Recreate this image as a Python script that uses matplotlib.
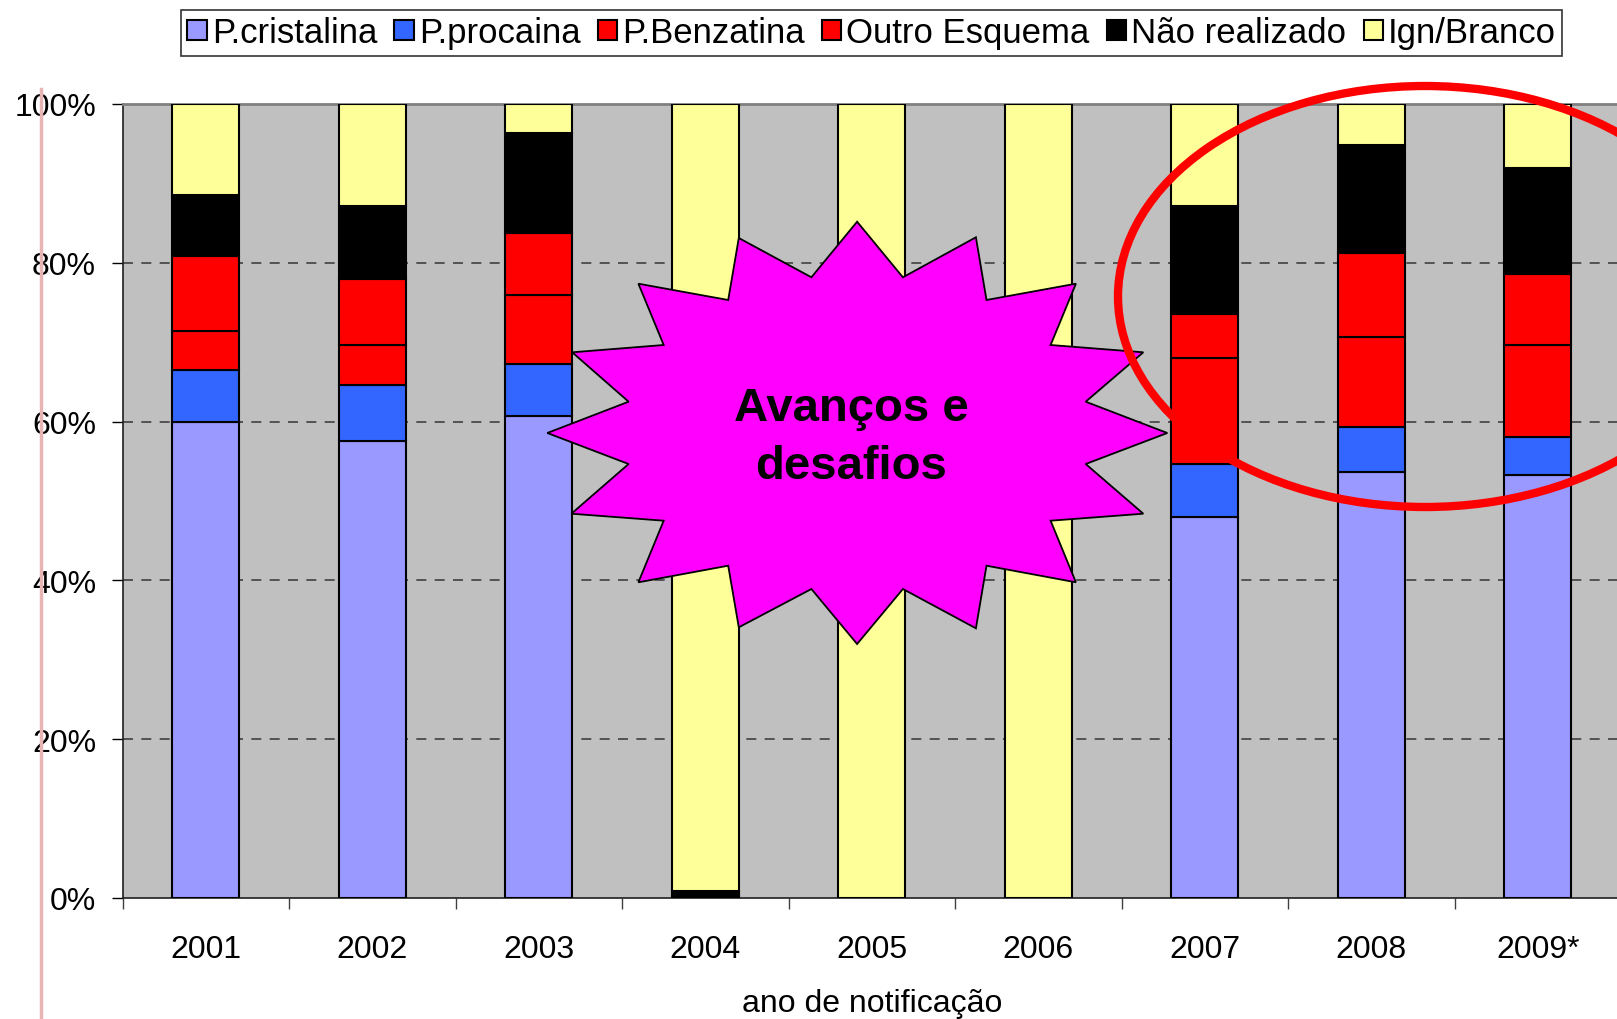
#
#   plot.py
#   stacked bars of tratamento por ano de notificacao, with the
#   "Avancos e desafios" burst and the red ring drawn on top
#

import matplotlib
matplotlib.use('Agg')
import matplotlib.pyplot as plt
from matplotlib.patches import Polygon, Ellipse
from matplotlib.ticker import FuncFormatter

plt.rcParams['font.family'] = ['Liberation Sans', 'DejaVu Sans']

years = ['2001', '2002', '2003', '2004', '2005', '2006', '2007', '2008', '2009*']
names = ['P.cristalina', 'P.procaina', 'P.Benzatina', 'Outro Esquema', 'Não realizado', 'Ign/Branco']
colors = ['#9999FF', '#3366FF', '#FF0000', '#FF0000', '#000000', '#FFFF99']

# percent of each year, bottom to top
cristalina = [60.0, 57.5, 60.7, 0.2, 0, 0, 48.0, 53.6, 53.3]
procaina = [6.5, 7.1, 6.6, 0, 0, 0, 6.7, 5.7, 4.7]
benzatina = [4.9, 5.0, 8.6, 0, 0, 0, 13.3, 11.3, 11.6]
outro = [9.4, 8.4, 7.9, 0, 0, 0, 5.6, 10.6, 9.0]
nao_realizado = [7.8, 9.1, 12.5, 0.7, 0, 0, 13.6, 13.6, 13.3]
ign_branco = [11.4, 12.9, 3.7, 99.1, 100, 100, 12.8, 5.2, 8.1]
series = [cristalina, procaina, benzatina, outro, nao_realizado, ign_branco]

W, H = 1617, 1020
fig = plt.figure(figsize=(W / 100, H / 100), dpi=100)
ax = fig.add_axes([122.5 / W, 1 - 899 / H, 1498.5 / W, 794 / H])
ax.set_facecolor('#C0C0C0')

x = list(range(len(years)))
bottom = [0] * len(years)
for vals, name, col in zip(series, names, colors):
    ax.bar(x, vals, 0.4, bottom=bottom, color=col, edgecolor='black',
           linewidth=1.5, label=name, zorder=3)
    bottom = [b + v for b, v in zip(bottom, vals)]

ax.set_xlim(-0.5, len(years) - 0.5)
ax.set_ylim(0, 100)
ax.set_yticks([0, 20, 40, 60, 80, 100])
ax.yaxis.set_major_formatter(FuncFormatter(lambda v, p: '%d%%' % v))
for g in [20, 40, 60, 80]:
    ax.axhline(g, color='#404040', linewidth=1.2, dashes=(6, 5), zorder=1)

ax.set_xticks([i - 0.5 for i in range(len(years) + 1)])
ax.set_xticklabels([])
ax.set_xticks(x, minor=True)
ax.set_xticklabels(years, minor=True)
ax.tick_params(axis='x', which='major', length=8, width=1, color='#404040')
ax.tick_params(axis='x', which='minor', length=0, pad=26, labelsize=23)
ax.tick_params(axis='y', length=8, width=1, pad=11, labelsize=23)
ax.set_xlabel('ano de notificação', fontsize=23, labelpad=17)

for s in ['left', 'bottom']:
    ax.spines[s].set_color('#202020')
    ax.spines[s].set_linewidth(1.2)
ax.spines['top'].set_color('#808080')
ax.spines['top'].set_linewidth(2)
ax.spines['right'].set_visible(False)

leg = fig.legend(loc='upper center', bbox_to_anchor=(871.7 / W, 1 - 11 / H), ncol=6,
                 fontsize=25, frameon=True, fancybox=False, edgecolor='black',
                 handlelength=0.55, handleheight=0.55, handletextpad=0.15,
                 columnspacing=0.5, borderpad=0.18, borderaxespad=0)
leg.get_frame().set_linewidth(1.2)

# overlay in pixel coords for the drawn shapes
ov = fig.add_axes([0, 0, 1, 1], zorder=10)
ov.set_xlim(0, W)
ov.set_ylim(H, 0)
ov.axis('off')
ov.patch.set_visible(False)

ov.plot([41, 41], [90, H], color='#E8B4B4', linewidth=2.5, zorder=1)

star = [(857.1, 222.7), (902.9, 278.3), (975.9, 238.3), (986.5, 301), (1075.9, 284.7),
        (1050.6, 346), (1143.3, 353.3), (1085.7, 402.7), (1167.3, 434), (1085.7, 465),
        (1143.3, 514.7), (1050.6, 521.7), (1075.9, 583.3), (986.5, 566.7), (975.9, 629.3),
        (902.9, 590), (857.1, 645), (811.4, 590), (738.8, 628.3), (728.2, 566.7),
        (638.4, 583.3), (663.7, 521.7), (571.4, 514.7), (628.6, 465), (547.3, 434),
        (628.6, 402.7), (572.2, 353.3), (663.7, 346), (638.4, 284.7), (728.2, 301),
        (738.8, 239), (811.4, 278.3)]
ov.add_patch(Polygon(star, closed=True, facecolor='#FF00FF', edgecolor='black',
                     linewidth=1.3, zorder=2))
ov.text(851, 438, 'Avanços e\ndesafios', ha='center', va='center', fontsize=34,
        fontweight='bold', linespacing=1.4, zorder=3)

ov.add_patch(Ellipse((1425, 297.5), 614, 421, fill=False, edgecolor='#FF0000',
                     linewidth=6, zorder=4, clip_on=False))

fig.savefig('out.png', dpi=100)
